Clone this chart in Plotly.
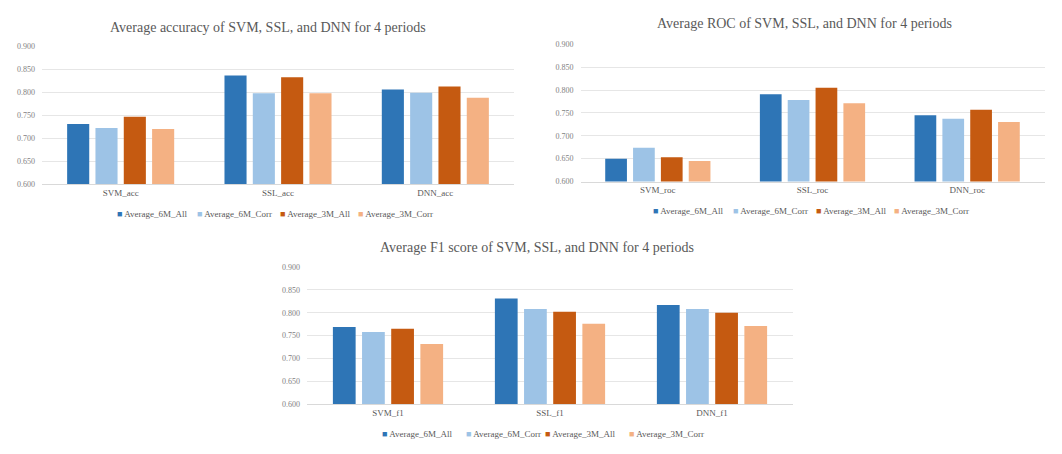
import plotly.graph_objects as go

series = ["Average_6M_All", "Average_6M_Corr", "Average_3M_All", "Average_3M_Corr"]
colors = ["#2E75B6", "#9DC3E6", "#C55A11", "#F4B183"]

acc_categories = ["SVM_acc", "SSL_acc", "DNN_acc"]
acc_6m_all = [0.731, 0.837, 0.806]
acc_6m_corr = [0.722, 0.798, 0.799]
acc_3m_all = [0.747, 0.833, 0.813]
acc_3m_corr = [0.720, 0.798, 0.788]

roc_categories = ["SVM_roc", "SSL_roc", "DNN_roc"]
roc_6m_all = [0.650, 0.791, 0.745]
roc_6m_corr = [0.674, 0.778, 0.737]
roc_3m_all = [0.653, 0.805, 0.757]
roc_3m_corr = [0.645, 0.771, 0.730]

f1_categories = ["SVM_f1", "SSL_f1", "DNN_f1"]
f1_6m_all = [0.769, 0.831, 0.817]
f1_6m_corr = [0.758, 0.808, 0.808]
f1_3m_all = [0.765, 0.802, 0.800]
f1_3m_corr = [0.732, 0.776, 0.771]

titles = ["Average accuracy of SVM, SSL, and DNN for 4 periods",
          "Average ROC of SVM, SSL, and DNN for 4 periods",
          "Average F1 score of SVM, SSL, and DNN for 4 periods"]
tick_vals = [0.600, 0.650, 0.700, 0.750, 0.800, 0.850, 0.900]

W, H = 1062, 454
FONT = "Liberation Serif"
GREY = "#595959"

charts = [
    (acc_categories, [acc_6m_all, acc_6m_corr, acc_3m_all, acc_3m_corr]),
    (roc_categories, [roc_6m_all, roc_6m_corr, roc_3m_all, roc_3m_corr]),
    (f1_categories, [f1_6m_all, f1_6m_corr, f1_3m_all, f1_3m_corr]),
]
# pixel boxes: x0, x1, ytop, ybottom ; title (x,y) ; legend row y ; legend entry x starts
boxes = [
    (42, 514, 46.5, 184, (268, 27), 214, [115, 195, 278, 356]),
    (580.5, 1044.5, 44.3, 181.5, (804, 24), 211, [651, 731, 814, 892]),
    (307, 793, 267, 404.3, (537, 247), 434, [380, 464, 543, 627]),
]

fig = go.Figure()
layout = dict(template="none", width=W, height=H, margin=dict(l=0, r=0, t=0, b=0),
              paper_bgcolor="white", plot_bgcolor="white",
              barmode="group", bargap=0.28, bargroupgap=0.22,
              font=dict(family=FONT, color=GREY), showlegend=False)
annotations = []
for i, ((cats, vals), (x0, x1, yt, yb, tpos, ly, lxs)) in enumerate(zip(charts, boxes)):
    sfx = "" if i == 0 else str(i + 1)
    for s, v, c in zip(series, vals, colors):
        fig.add_trace(go.Bar(x=cats, y=v, name=s, marker=dict(color=c, line=dict(width=0)),
                             xaxis="x" + sfx, yaxis="y" + sfx, showlegend=False))
    layout["xaxis" + sfx] = dict(domain=[x0 / W, x1 / W], anchor="y" + sfx,
                                 showline=True, linecolor="#D9D9D9", linewidth=1,
                                 tickfont=dict(size=9, color=GREY, family=FONT),
                                 ticks="", showgrid=False, zeroline=False)
    layout["yaxis" + sfx] = dict(domain=[1 - yb / H, 1 - yt / H], anchor="x" + sfx,
                                 range=[0.6, 0.9], tickvals=tick_vals, tickformat=".3f",
                                 showgrid=True, gridcolor="#E6E6E6", gridwidth=1,
                                 zeroline=False, showline=False, ticks="",
                                 tickfont=dict(size=8, color="#7F7F7F", family=FONT),
                                 ticklabelstandoff=6)
    annotations.append(dict(text=titles[i], x=tpos[0] / W, y=1 - tpos[1] / H,
                            xref="paper", yref="paper", showarrow=False,
                            xanchor="center", yanchor="middle",
                            font=dict(size=14, family=FONT, color=GREY)))
    for s, c, lx in zip(series, colors, lxs):
        annotations.append(dict(text=f'<span style="color:{c}">■</span> {s}',
                                x=lx / W, y=1 - ly / H, xref="paper", yref="paper",
                                showarrow=False, xanchor="left", yanchor="middle",
                                font=dict(size=9, family=FONT, color=GREY)))
layout["annotations"] = annotations
fig.update_layout(**layout)
fig.write_html("out.html", config={"displayModeBar": False},
               post_script="document.body.style.margin='0';")
